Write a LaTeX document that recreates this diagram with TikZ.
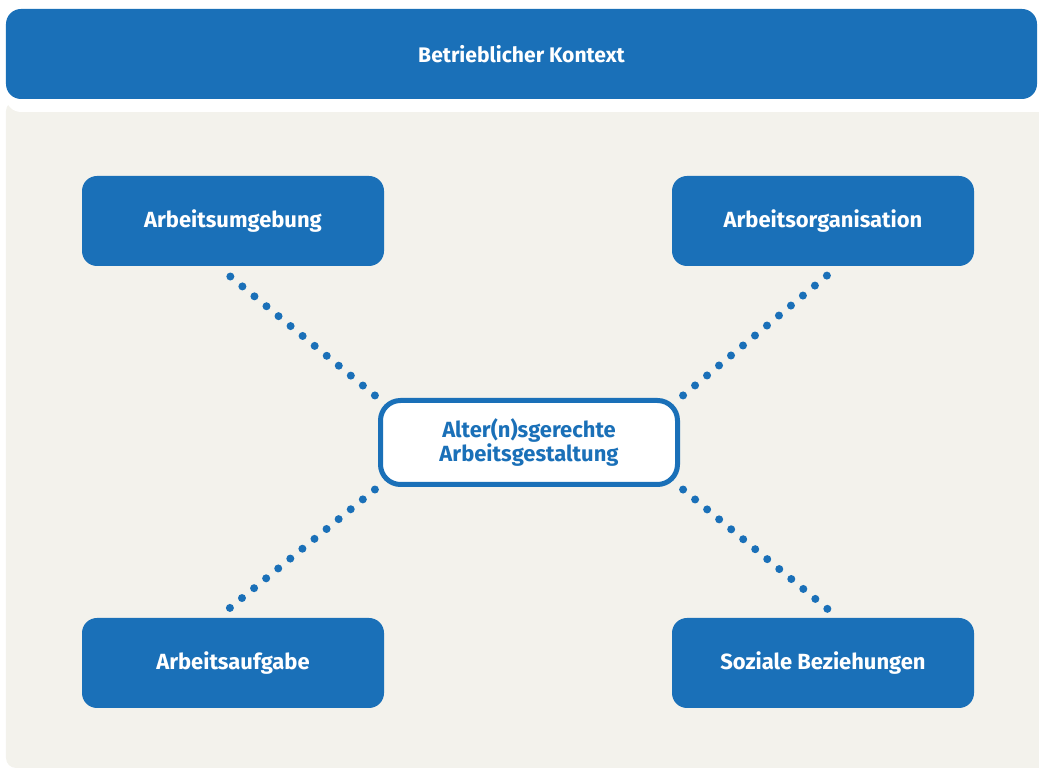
\documentclass[tikz,border=0pt]{standalone}
\usepackage{fontspec}
\setmainfont{Fira Sans}
\usepackage{xcolor}
\usetikzlibrary{positioning,calc}

\definecolor{kblue}{RGB}{26,112,184}
\definecolor{kbeige}{RGB}{243,242,236}

\begin{document}
\begin{tikzpicture}[
    box/.style={fill=kblue, text=white, rounded corners=0.3cm,
        minimum width=6.04cm, minimum height=1.8cm, font=\fontsize{12.5}{14}\selectfont\bfseries},
    core/.style={fill=white, draw=kblue, line width=0.1cm, text=kblue, rounded corners=0.4cm,
        minimum width=5.94cm, minimum height=1.68cm, align=center, font=\fontsize{12.5}{13.6}\selectfont\bfseries},
    dots/.style={kblue, line width=0.16cm, line cap=round, dash pattern=on 0pt off 0.312cm,
        shorten <=0.08cm, shorten >=0.15cm}
]
    \useasboundingbox (0,0) rectangle (20.78,15.42);

    % Background
    \fill[kbeige, rounded corners=0.2cm] (0.12,0.06) rectangle (21.2,13.4);
    \fill[white, rounded corners=0.3cm] (0.12,13.18) rectangle (21.2,15.3);

    % Context bar
    \node[box, minimum width=20.62cm, font=\fontsize{12}{14}\selectfont\bfseries] (kontext) at (10.43,14.34) {Betrieblicher Kontext};

    % Outer boxes
    \node[box] (umgebung) at (4.66,11.0) {Arbeitsumgebung};
    \node[box] (organisation) at (16.46,11.0) {Arbeitsorganisation};
    \node[box] (aufgabe) at (4.66,2.16) {Arbeitsaufgabe};
    \node[box] (sozial) at (16.46,2.16) {Soziale Beziehungen};

    % Centre
    \node[core] (mitte) at (10.58,6.57) {Alter(n)sgerechte\\Arbeitsgestaltung};

    % Dotted links
    \draw[dots] (mitte.north west) -- ($(umgebung.south)+(-0.3,0)$);
    \draw[dots] (mitte.north east) -- ($(organisation.south)+(0.3,0)$);
    \draw[dots] (mitte.south west) -- ($(aufgabe.north)+(-0.3,0)$);
    \draw[dots] (mitte.south east) -- ($(sozial.north)+(0.3,0)$);

\end{tikzpicture}
\end{document}
